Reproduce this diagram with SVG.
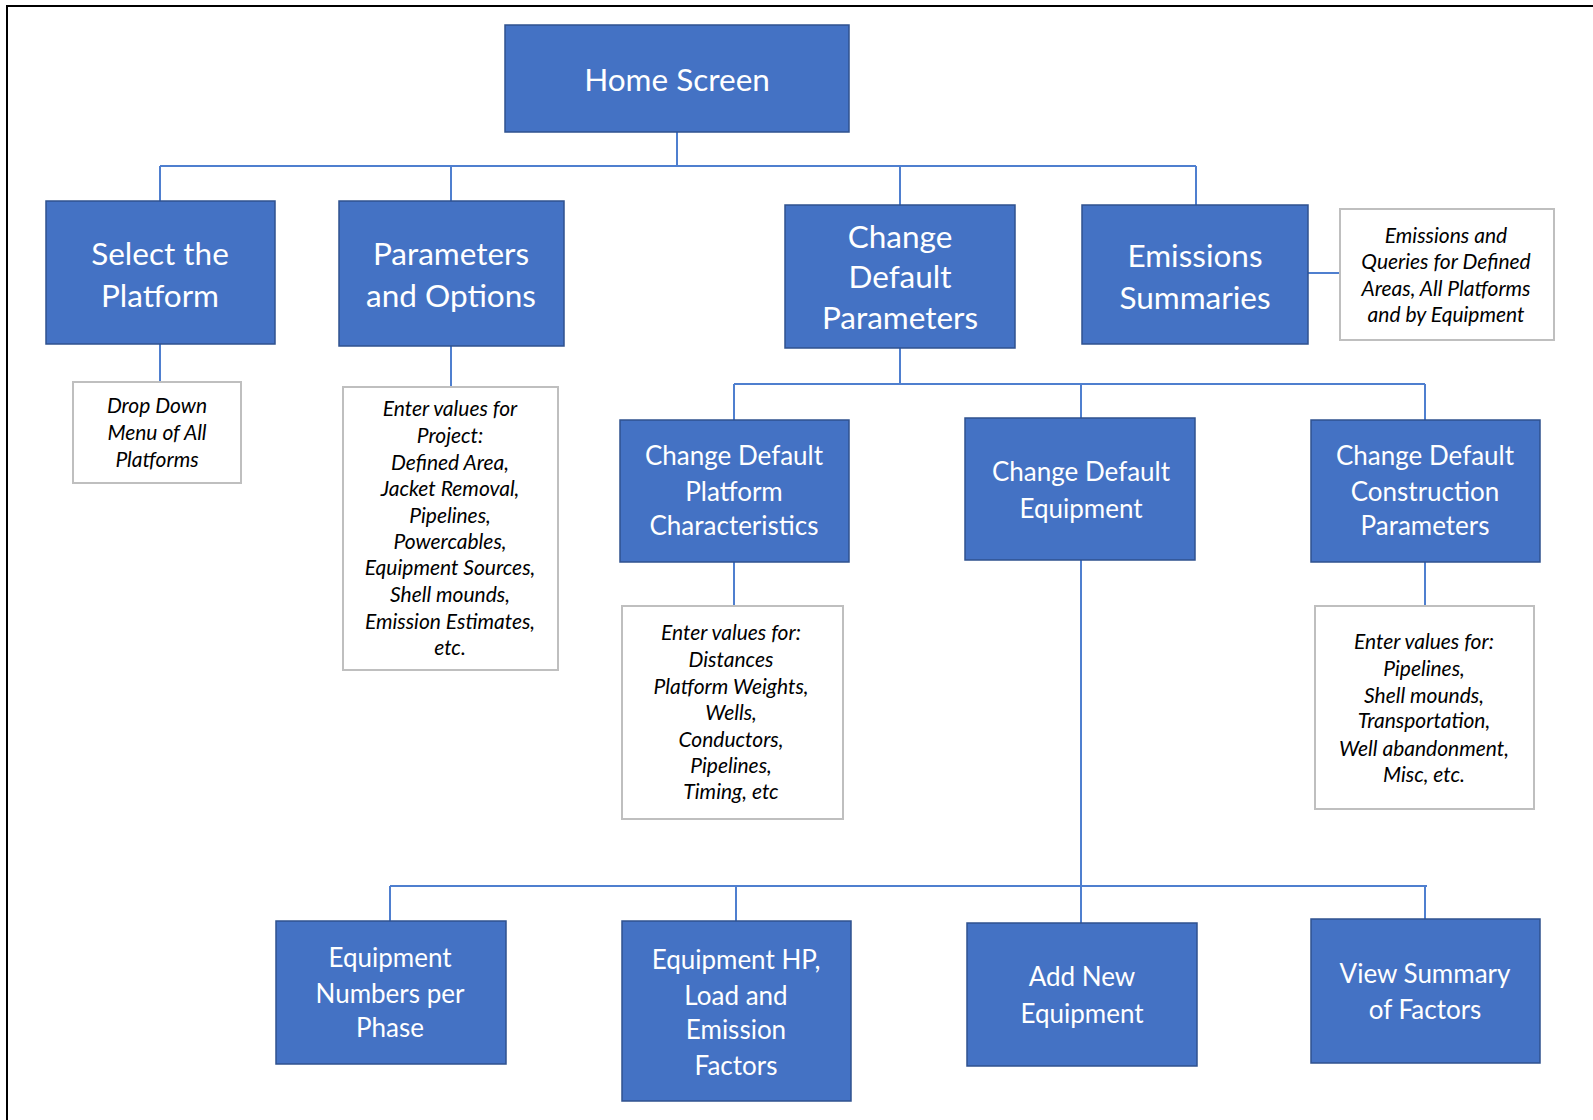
<svg xmlns="http://www.w3.org/2000/svg" width="1593" height="1120" viewBox="0 0 1593 1120">
<style>
.box{fill:#4472C4;stroke:#2F528F;stroke-width:1.5}
.note{fill:#FFFFFF;stroke:#BFBFBF;stroke-width:2}
.t{font-family:Lato,"Open Sans",sans-serif;fill:#FFFFFF;text-anchor:middle;dominant-baseline:central}
.big{font-size:31.5px}
.mid{font-size:26px}
.n{font-family:Lato,"Open Sans",sans-serif;font-style:italic;font-size:21px;fill:#000000;text-anchor:middle;dominant-baseline:central}
.c{fill:none;stroke:#4F7FCF;stroke-width:2}
</style>
<rect width="1593" height="1120" fill="#FFFFFF"/>
<path d="M7 1120 V6 H1593" fill="none" stroke="#000000" stroke-width="2"/>
<g id="connectors">
<path class="c" d="M677 132 V166 M160 166 H1196 M160 166 V201 M451 166 V201 M900 166 V205 M1196 166 V205"/>
<path class="c" d="M160 344 V382 M451 346 V387 M1308 273 H1340"/>
<path class="c" d="M900 348 V384 M734 384 H1425 M734 384 V420 M1081 384 V418 M1425 384 V420"/>
<path class="c" d="M734 562 V606 M1425 562 V606"/>
<path class="c" d="M1081 560 V923 M390 886 H1427 M390 886 V921 M736 886 V921 M1425 886 V919"/>
</g>
<g id="home"><rect class="box" x="505" y="25" width="344" height="107"/><text class="t big" x="677" y="79">Home Screen</text></g>
<g id="select"><rect class="box" x="46" y="201" width="229" height="143"/><text class="t big" x="160" y="253">Select the</text><text class="t big" x="160" y="295">Platform</text></g>
<g id="params"><rect class="box" x="339" y="201" width="225" height="145"/><text class="t big" x="451" y="253">Parameters</text><text class="t big" x="451" y="295">and Options</text></g>
<g id="cdp"><rect class="box" x="785" y="205" width="230" height="143"/><text class="t big" x="900" y="236">Change</text><text class="t big" x="900" y="276">Default</text><text class="t big" x="900" y="317">Parameters</text></g>
<g id="emis"><rect class="box" x="1082" y="205" width="226" height="139"/><text class="t big" x="1195" y="255">Emissions</text><text class="t big" x="1195" y="297">Summaries</text></g>
<g id="emisnote"><rect class="note" x="1340" y="209" width="214" height="131"/><text class="n" x="1446" y="234">Emissions and</text><text class="n" x="1446" y="260">Queries for Defined</text><text class="n" x="1446" y="287">Areas, All  Platforms</text><text class="n" x="1446" y="313">and by Equipment</text></g>
<g id="dropnote"><rect class="note" x="73" y="382" width="168" height="101"/><text class="n" x="157" y="404">Drop Down</text><text class="n" x="157" y="431">Menu of All</text><text class="n" x="157" y="458">Platforms</text></g>
<g id="paramnote"><rect class="note" x="343" y="387" width="215" height="283"/>
<text class="n" x="450" y="407">Enter values for</text><text class="n" x="450" y="434">Project:</text><text class="n" x="450" y="461">Defined Area,</text><text class="n" x="450" y="487">Jacket Removal,</text><text class="n" x="450" y="514">Pipelines,</text><text class="n" x="450" y="540">Powercables,</text><text class="n" x="450" y="566">Equipment Sources,</text><text class="n" x="450" y="593">Shell mounds,</text><text class="n" x="450" y="620">Emission Estimates,</text><text class="n" x="450" y="646">etc.</text></g>
<g id="cdpc"><rect class="box" x="620" y="420" width="229" height="142"/><text class="t mid" x="734" y="455">Change Default</text><text class="t mid" x="734" y="491">Platform</text><text class="t mid" x="734" y="525">Characteristics</text></g>
<g id="cde"><rect class="box" x="965" y="418" width="230" height="142"/><text class="t mid" x="1081" y="471">Change Default</text><text class="t mid" x="1081" y="508">Equipment</text></g>
<g id="cdcp"><rect class="box" x="1311" y="420" width="229" height="142"/><text class="t mid" x="1425" y="455">Change Default</text><text class="t mid" x="1425" y="491">Construction</text><text class="t mid" x="1425" y="525">Parameters</text></g>
<g id="platnote"><rect class="note" x="622" y="606" width="221" height="213"/><text class="n" x="731" y="631">Enter values for:</text><text class="n" x="731" y="658">Distances</text><text class="n" x="731" y="685">Platform Weights,</text><text class="n" x="731" y="711">Wells,</text><text class="n" x="731" y="738">Conductors,</text><text class="n" x="731" y="764">Pipelines,</text><text class="n" x="731" y="790">Timing, etc</text></g>
<g id="consnote"><rect class="note" x="1315" y="606" width="219" height="203"/><text class="n" x="1424" y="640">Enter values for:</text><text class="n" x="1424" y="667">Pipelines,</text><text class="n" x="1424" y="694">Shell mounds,</text><text class="n" x="1424" y="719">Transportation,</text><text class="n" x="1424" y="747">Well abandonment,</text><text class="n" x="1424" y="773">Misc, etc.</text></g>
<g id="eqnum"><rect class="box" x="276" y="921" width="230" height="143"/><text class="t mid" x="390" y="957">Equipment</text><text class="t mid" x="390" y="993">Numbers per</text><text class="t mid" x="390" y="1027">Phase</text></g>
<g id="eqhp"><rect class="box" x="622" y="921" width="229" height="180"/><text class="t mid" x="736" y="959">Equipment  HP,</text><text class="t mid" x="736" y="995">Load and</text><text class="t mid" x="736" y="1029">Emission</text><text class="t mid" x="736" y="1065">Factors</text></g>
<g id="addnew"><rect class="box" x="967" y="923" width="230" height="143"/><text class="t mid" x="1082" y="976">Add New</text><text class="t mid" x="1082" y="1013">Equipment</text></g>
<g id="viewsum"><rect class="box" x="1311" y="919" width="229" height="144"/><text class="t mid" x="1425" y="973">View Summary</text><text class="t mid" x="1425" y="1009">of Factors</text></g>
</svg>
